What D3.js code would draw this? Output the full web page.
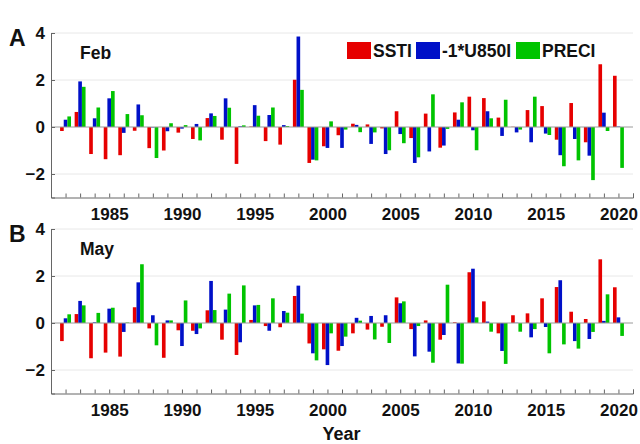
<!DOCTYPE html>
<html>
<head>
<meta charset="utf-8">
<script src="https://cdnjs.cloudflare.com/ajax/libs/d3/7.8.5/d3.min.js"></script>
<style>
  html, body { margin: 0; padding: 0; background: #fff; }
  svg text { font-family: "Liberation Sans", Arial, Helvetica, sans-serif; font-weight: bold; fill: #111; }
</style>
</head>
<body>
<svg id="chart" width="640" height="444"></svg>
<script>
// years on the x axis
var years = d3.range(1982, 2021);

// Feb panel (A)
var febSSTI = [-0.17, 0.64, -1.15, -1.37, -1.20, -0.16, -0.90, -1.00, -0.24, -0.51,
  0.38, -0.54, -1.57, 0.02, -0.60, -0.75, 2.01, -1.53, -0.82, -0.35,
  0.14, 0.11, -0.06, 0.67, -0.47, 0.57, -0.88, 0.62, 1.29, 1.23,
  0.40, 0.01, 0.72, 0.89, -0.54, 1.02, -0.65, 2.67, 2.18];
var febU850 = [0.31, 1.94, 0.37, 1.22, -0.25, 0.96, -0.02, -0.18, -0.07, 0.13,
  0.58, 1.22, 0.03, 0.93, 0.51, 0.08, 3.85, -1.39, -0.89, -0.89,
  0.09, -0.72, -1.15, -0.30, -1.53, -1.04, -0.79, 0.31, -0.14, 0.67,
  -0.38, -0.23, -0.65, -0.28, -1.20, -0.51, -1.22, 0.61, 0.02];
var febPREC = [0.45, 1.71, 0.83, 1.53, 0.55, 0.50, -1.32, 0.16, 0.08, -0.57,
  0.47, 0.82, 0.07, 0.48, 0.83, 0.04, 1.58, -1.42, 0.24, -0.11,
  -0.22, -0.23, -0.99, -0.69, -1.29, 1.39, -0.08, 1.05, -0.99, 0.37,
  1.16, -0.11, 1.29, -0.34, -1.67, -1.42, -2.26, -0.17, -1.74];

// May panel (B)
var maySSTI = [-0.77, 0.38, -1.50, -1.26, -1.43, 0.67, -0.23, -1.48, -0.31, -0.33,
  0.54, -0.71, -1.36, 0.13, -0.13, -0.18, 1.15, -0.87, -1.12, -1.18,
  -0.44, -0.28, -0.16, 1.09, -0.26, 0.11, -0.71, 0.03, 2.16, 0.92,
  -0.44, 0.33, 0.41, 1.05, 1.53, 0.48, 0.17, 2.71, 1.52];
var mayU850 = [0.20, 0.94, 0.03, 0.61, -0.38, 1.73, 0.33, 0.11, -0.98, -0.47,
  1.79, 0.57, -0.82, 0.75, -0.33, 0.51, 1.59, -1.29, -1.79, -0.98,
  0.22, 0.30, 0.33, 0.84, -1.42, -1.22, -0.51, -1.72, 2.31, 0.06,
  -1.19, 0.01, -0.61, -0.17, 1.82, -0.77, -0.68, 0.09, 0.24];
var mayPREC = [0.37, 0.75, 0.43, 0.65, 0.02, 2.50, -0.95, 0.11, 0.96, -0.23,
  0.55, 1.25, 1.60, 0.77, 1.05, 0.44, 0.40, -1.59, -0.44, -0.58,
  0.10, -0.70, -0.85, 0.92, -0.13, -1.69, 1.63, -1.73, 0.24, -0.37,
  -1.74, -0.37, -0.26, -1.29, -0.91, -1.09, -0.38, 1.22, -0.55];

var seriesNames = ['SSTI', '-1*U850I', 'PRECI'];
var seriesColors = ['#e60000', '#0010c8', '#00c400'];
var yTicks = [-2, 0, 2, 4];
var xTickLabels = [1985, 1990, 1995, 2000, 2005, 2010, 2015, 2020];

var panels = [
  { letter: 'A', title: 'Feb', top: 33, series: [febSSTI, febU850, febPREC], legend: true },
  { letter: 'B', title: 'May', top: 229, series: [maySSTI, mayU850, mayPREC], legend: false }
];

var LEFT = 51, RIGHT = 633, PANEL_H = 164.5;
var BAR_W = 0.25; // in years

var svg = d3.select('#chart');

var x = d3.scaleLinear().domain([1981, 2021]).range([LEFT, RIGHT]);

panels.forEach(function(p) {
  var y = d3.scaleLinear().domain([-3, 4]).range([p.top + PANEL_H, p.top]);
  var g = svg.append('g').attr('class', 'panel');

  // gridlines
  g.selectAll('.grid')
    .data(yTicks.filter(function(d) { return d !== 0; }))
    .enter()
    .append('line')
    .attr('x1', LEFT).attr('x2', RIGHT)
    .attr('y1', function(d) { return y(d); })
    .attr('y2', function(d) { return y(d); })
    .attr('stroke', '#e8e8e8')
    .attr('stroke-width', 1);

  // bars
  p.series.forEach(function(vals, si) {
    g.selectAll('.bar' + si)
      .data(vals)
      .enter()
      .append('rect')
      .attr('x', function(d, i) { return x(years[i] + (si - 1) * BAR_W - BAR_W / 2); })
      .attr('width', x(1981 + BAR_W) - x(1981))
      .attr('y', function(d) { return y(Math.max(0, d)); })
      .attr('height', function(d) { return Math.abs(y(d) - y(0)); })
      .attr('fill', seriesColors[si]);
  });

  // zero baseline
  g.append('line')
    .attr('x1', LEFT).attr('x2', RIGHT)
    .attr('y1', y(0)).attr('y2', y(0))
    .attr('stroke', '#9a9a9a')
    .attr('stroke-width', 1);

  // y axis
  var yAxis = d3.axisLeft(y).tickValues(yTicks).tickSize(-4).tickPadding(6).tickFormat(d3.format('d'));
  var ya = g.append('g').attr('transform', 'translate(' + LEFT + ',0)').call(yAxis);
  ya.select('.domain').attr('stroke', '#666');
  ya.selectAll('.tick line').attr('stroke', '#666');
  ya.selectAll('text').attr('font-size', 17).attr('fill', '#111')
    .attr('font-family', '"Liberation Sans", Arial, sans-serif').attr('font-weight', 'bold');

  // x axis: a small tick each year, labels every five years
  var xAxis = d3.axisBottom(x).tickValues(d3.range(1981, 2022)).tickSize(-4).tickPadding(10)
    .tickFormat(function(d) { return xTickLabels.indexOf(d) >= 0 ? d : ''; });
  var xa = g.append('g').attr('transform', 'translate(0,' + (p.top + PANEL_H) + ')').call(xAxis);
  xa.select('.domain').attr('stroke', '#666');
  xa.selectAll('.tick line').attr('stroke', '#666');
  xa.selectAll('text').attr('font-size', 17).attr('fill', '#111')
    .attr('font-family', '"Liberation Sans", Arial, sans-serif').attr('font-weight', 'bold');

  // panel letter and month
  g.append('text').attr('x', 9).attr('y', p.top + 13).attr('font-size', 23).text(p.letter);
  g.append('text').attr('x', 80).attr('y', p.top + 26).attr('font-size', 17.5).text(p.title);

  if (p.legend) {
    var items = [
      { name: seriesNames[0], color: seriesColors[0], x: 347 },
      { name: seriesNames[1], color: seriesColors[1], x: 416 },
      { name: seriesNames[2], color: seriesColors[2], x: 516 }
    ];
    var leg = g.append('g').attr('class', 'legend');
    var item = leg.selectAll('.series')
      .data(items)
      .enter()
      .append('g')
      .attr('class', 'series')
      .attr('transform', function(d) { return 'translate(' + d.x + ',' + (p.top + 9) + ')'; });
    item.append('rect')
      .attr('width', 24).attr('height', 17)
      .attr('fill', function(d) { return d.color; });
    item.append('text')
      .attr('x', 26).attr('y', 15)
      .attr('font-size', 17.5)
      .text(function(d) { return d.name; });
  }
});

// x axis title
svg.append('text')
  .attr('x', x(2001) - 0.5).attr('y', 440)
  .attr('text-anchor', 'middle')
  .attr('font-size', 18)
  .text('Year');
</script>
</body>
</html>
